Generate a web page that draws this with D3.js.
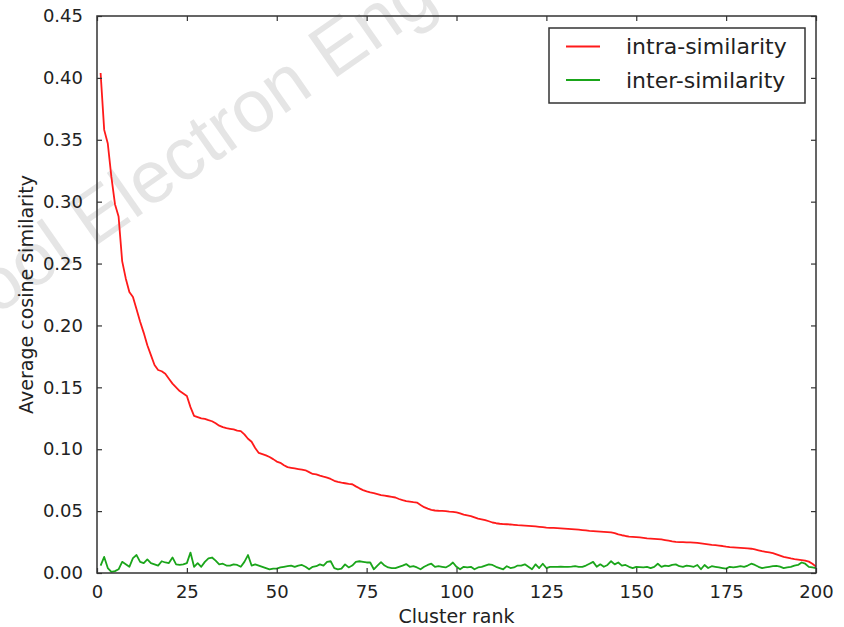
<!DOCTYPE html>
<html>
<head>
<meta charset="utf-8">
<script src="https://cdn.jsdelivr.net/npm/d3@7"></script>
<style>
  html, body { margin: 0; padding: 0; background: #fff; }
  svg { display: block; font-family: "DejaVu Sans", sans-serif; }
</style>
</head>
<body>
<svg id="chart" width="844" height="627"></svg>
<script>
// intra-similarity, cluster rank 1..200
let intra_sim = [
  0.404, 0.358, 0.347, 0.320, 0.298, 0.288, 0.252, 0.238, 0.227, 0.223,
  0.213, 0.203, 0.194, 0.184, 0.176, 0.168, 0.164, 0.163, 0.161, 0.157,
  0.153, 0.150, 0.147, 0.145, 0.143, 0.134, 0.127, 0.126, 0.125, 0.1245,
  0.1235, 0.1226, 0.121, 0.119, 0.1178, 0.117, 0.1165, 0.116, 0.115, 0.1146,
  0.112, 0.1085, 0.106, 0.101, 0.097, 0.096, 0.095, 0.0937, 0.092, 0.090,
  0.089, 0.087, 0.0855, 0.085, 0.0845, 0.084, 0.0835, 0.083, 0.0815, 0.080,
  0.0797, 0.0787, 0.0778, 0.077, 0.076, 0.0745, 0.0737, 0.0730, 0.0725, 0.0720,
  0.0717, 0.0700, 0.0684, 0.0670, 0.0660, 0.0652, 0.0646, 0.0638, 0.0630, 0.0625,
  0.0620, 0.0615, 0.0610, 0.0598, 0.0588, 0.0580, 0.0576, 0.0572, 0.0569, 0.0550,
  0.0532, 0.0520, 0.0510, 0.0505, 0.0503, 0.0502, 0.0500, 0.0496, 0.0494, 0.0490,
  0.0482, 0.0472, 0.0466, 0.0460, 0.0450, 0.0440, 0.0434, 0.0427, 0.0418, 0.0408,
  0.0402, 0.0398, 0.0395, 0.0394, 0.0392, 0.0389, 0.0386, 0.0384, 0.0382, 0.0380,
  0.0378, 0.0376, 0.0373, 0.0370, 0.0367, 0.0365, 0.0364, 0.0362, 0.0360, 0.0358,
  0.0356, 0.0354, 0.0352, 0.0350, 0.0347, 0.0344, 0.0341, 0.0339, 0.0337, 0.0335,
  0.0333, 0.0331, 0.0328, 0.0322, 0.0312, 0.0305, 0.0299, 0.0294, 0.0292, 0.0290,
  0.0287, 0.0284, 0.0280, 0.0278, 0.0276, 0.0274, 0.0271, 0.0266, 0.0261, 0.0256,
  0.0252, 0.0250, 0.0249, 0.0248, 0.0247, 0.0246, 0.0244, 0.0240, 0.0236, 0.0232,
  0.0228, 0.0225, 0.0222, 0.0218, 0.0213, 0.0209, 0.0207, 0.0205, 0.0203, 0.0201,
  0.0199, 0.0196, 0.0190, 0.0183, 0.0176, 0.0171, 0.0166, 0.0160, 0.0150, 0.0140,
  0.0130, 0.0125, 0.0118, 0.0112, 0.0108, 0.0104, 0.0100, 0.0092, 0.0075, 0.0052
];

// inter-similarity, cluster rank 1..200
let inter_sim = [
  0.006, 0.013, 0.004, 0.001, 0.0015, 0.003, 0.009, 0.007, 0.005, 0.012,
  0.0145, 0.009, 0.008, 0.011, 0.008, 0.007, 0.006, 0.0095, 0.0085, 0.008,
  0.0126, 0.007, 0.0065, 0.007, 0.008, 0.0165, 0.005, 0.008, 0.005, 0.009,
  0.0118, 0.0125, 0.010, 0.007, 0.0075, 0.006, 0.006, 0.007, 0.0065, 0.005,
  0.009, 0.0145, 0.006, 0.007, 0.006, 0.005, 0.004, 0.003, 0.0035, 0.0035,
  0.0045, 0.005, 0.0055, 0.006, 0.005, 0.006, 0.0065, 0.005, 0.003, 0.005,
  0.0055, 0.007, 0.006, 0.009, 0.0095, 0.004, 0.003, 0.0035, 0.007, 0.0045,
  0.006, 0.009, 0.0095, 0.009, 0.0085, 0.0085, 0.003, 0.006, 0.0088, 0.006,
  0.0045, 0.004, 0.004, 0.005, 0.006, 0.0072, 0.005, 0.0055, 0.0045, 0.003,
  0.005, 0.0065, 0.0075, 0.005, 0.0055, 0.005, 0.0045, 0.006, 0.0085, 0.005,
  0.003, 0.005, 0.0045, 0.005, 0.003, 0.0045, 0.005, 0.006, 0.007, 0.0065,
  0.005, 0.004, 0.003, 0.0055, 0.004, 0.0045, 0.006, 0.006, 0.007, 0.005,
  0.003, 0.007, 0.004, 0.0075, 0.004, 0.005, 0.005, 0.005, 0.0052, 0.005,
  0.005, 0.0052, 0.0055, 0.005, 0.005, 0.006, 0.0075, 0.009, 0.005, 0.007,
  0.005, 0.0065, 0.0095, 0.007, 0.0085, 0.006, 0.0065, 0.005, 0.004, 0.005,
  0.0048, 0.0045, 0.005, 0.004, 0.005, 0.0075, 0.005, 0.006, 0.0055, 0.0065,
  0.007, 0.0055, 0.005, 0.006, 0.0055, 0.005, 0.0065, 0.003, 0.0065, 0.004,
  0.0055, 0.005, 0.0045, 0.004, 0.0035, 0.005, 0.0045, 0.005, 0.0055, 0.005,
  0.006, 0.0075, 0.0065, 0.005, 0.004, 0.0045, 0.005, 0.0055, 0.0058, 0.0052,
  0.004, 0.0045, 0.005, 0.006, 0.0065, 0.0085, 0.0075, 0.005, 0.0045, 0.004
];

let x_ticks = [0, 25, 50, 75, 100, 125, 150, 175, 200];
let y_ticks = [0.00, 0.05, 0.10, 0.15, 0.20, 0.25, 0.30, 0.35, 0.40, 0.45];

let series = [
  {name: "intra-similarity", values: intra_sim, color: "#ff1a1a"},
  {name: "inter-similarity", values: inter_sim, color: "#1aa51a"}
];

let layout = {
  plot: {x: 97, y: 16, width: 719, height: 557},
  tick_len: 5,
  font: {tick: 18, label: 19, legend: 22},
  legend: {x: 549, y: 28, width: 256, height: 75}
};

let svg = d3.select("#chart");
let P = layout.plot;

//watermark
let wm = svg.append("g").attr("transform", "translate(93,248) rotate(-35)")
  .style("font-family", "'Liberation Sans', Arial, sans-serif")
  .style("font-size", "74px").style("fill", "#e5e5e5");
wm.append("text").attr("x", 0).text("Electron Eng");
wm.append("text").attr("x", -20).attr("text-anchor", "end").text("School");

let x = d3.scaleLinear().domain([0, 200]).range([P.x, P.x + P.width]);
let y = d3.scaleLinear().domain([0, 0.45]).range([P.y + P.height, P.y]);

svg.append("clipPath").attr("id", "plot-clip").append("rect")
  .attr("x", P.x).attr("y", P.y).attr("width", P.width).attr("height", P.height);

//lines
let line = d3.line()
  .x(function(d, i) { return x(i + 1); })
  .y(function(d) { return y(d); });

let lines = svg.append("g").attr("clip-path", "url(#plot-clip)");
series.forEach(function(s) {
  lines.append("path").datum(s.values)
    .attr("d", line)
    .style("fill", "none").style("stroke", s.color)
    .style("stroke-width", 1.8).style("stroke-linejoin", "round");
});

//axes with ticks inside on all four sides
let axisStyle = function(g, size) {
  g.select(".domain").remove();
  g.selectAll(".tick line").style("stroke", "#333").style("stroke-width", 1.2);
  g.selectAll(".tick text").style("font-size", size + "px").style("fill", "#222")
    .style("font-family", "'DejaVu Sans', sans-serif");
};

svg.append("g").attr("transform", "translate(0," + (P.y + P.height) + ")")
  .call(d3.axisBottom(x).tickValues(x_ticks).tickFormat(d3.format("d"))
    .tickSizeInner(-layout.tick_len).tickSizeOuter(0).tickPadding(12))
  .call(axisStyle, layout.font.tick);

svg.append("g").attr("transform", "translate(0," + P.y + ")")
  .call(d3.axisTop(x).tickValues(x_ticks).tickFormat("")
    .tickSizeInner(-layout.tick_len).tickSizeOuter(0))
  .call(axisStyle, layout.font.tick);

svg.append("g").attr("transform", "translate(" + P.x + ",0)")
  .call(d3.axisLeft(y).tickValues(y_ticks).tickFormat(d3.format(".2f"))
    .tickSizeInner(-layout.tick_len).tickSizeOuter(0).tickPadding(14))
  .call(axisStyle, layout.font.tick);

svg.append("g").attr("transform", "translate(" + (P.x + P.width) + ",0)")
  .call(d3.axisRight(y).tickValues(y_ticks).tickFormat("")
    .tickSizeInner(-layout.tick_len).tickSizeOuter(0))
  .call(axisStyle, layout.font.tick);

//frame
svg.append("rect").attr("x", P.x).attr("y", P.y).attr("width", P.width).attr("height", P.height)
  .style("fill", "none").style("stroke", "#333").style("stroke-width", 1.5);

//axis names
svg.append("text").attr("x", P.x + P.width / 2).attr("y", 623)
  .attr("text-anchor", "middle").style("font-size", layout.font.label + "px").style("fill", "#222")
  .text("Cluster rank");
svg.append("text").attr("transform", "translate(33," + (P.y + P.height / 2) + ") rotate(-90)")
  .attr("text-anchor", "middle").style("font-size", layout.font.label + "px").style("fill", "#222")
  .text("Average cosine similarity");

//legend
let L = layout.legend;
let legend = svg.append("g").attr("transform", "translate(" + L.x + "," + L.y + ")");
legend.append("rect").attr("width", L.width).attr("height", L.height)
  .style("fill", "#fff").style("stroke", "#333").style("stroke-width", 1.5);
series.forEach(function(s, i) {
  let ly = 18.5 + i * 33.5;
  legend.append("line").attr("x1", 17).attr("x2", 51).attr("y1", ly).attr("y2", ly)
    .style("stroke", s.color).style("stroke-width", 1.8);
  legend.append("text").attr("x", 77).attr("y", ly).attr("dy", "0.35em")
    .style("font-size", layout.font.legend + "px").style("fill", "#222").text(s.name);
});
</script>
</body>
</html>
